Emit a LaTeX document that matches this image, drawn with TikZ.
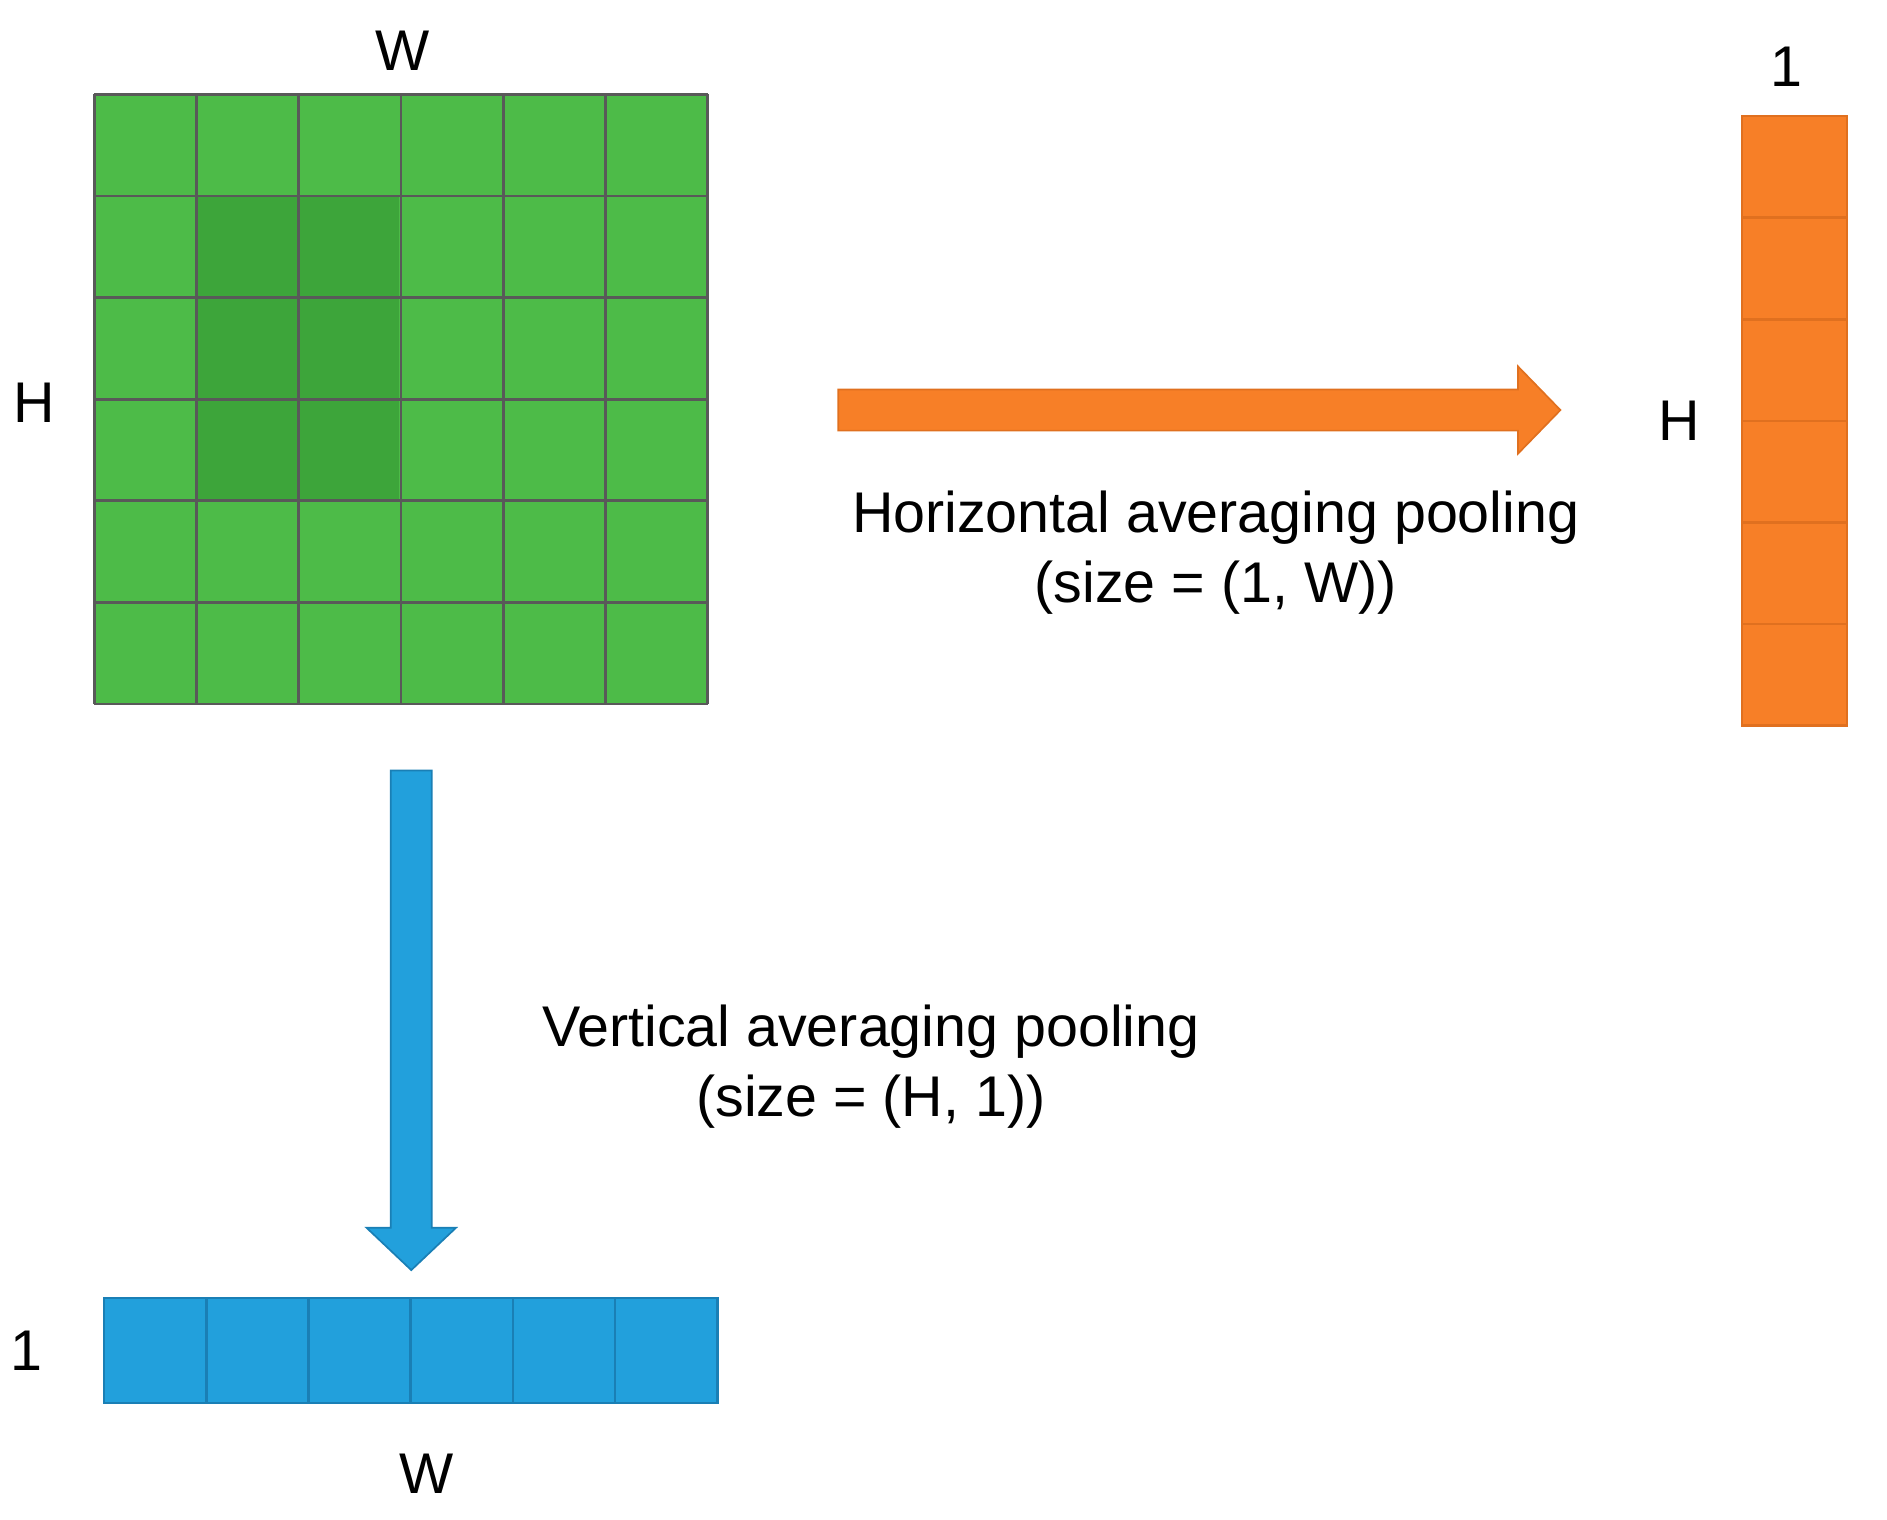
\documentclass[tikz,border=0pt]{standalone}
\usepackage{fontspec}
\setmainfont{Liberation Sans}
\definecolor{grn}{HTML}{4DBB48}
\definecolor{dgrn}{HTML}{3DA53A}
\definecolor{org}{HTML}{F77F27}
\definecolor{orgd}{HTML}{E0701F}
\definecolor{blu}{HTML}{22A0DC}
\definecolor{blud}{HTML}{1A7FB5}
\begin{document}
\begin{tikzpicture}[x=0.02cm,y=-0.02cm,
  lbl/.style={font=\fontsize{27}{33}\selectfont, align=center, inner sep=0pt}]
\useasboundingbox (0,0) rectangle (1560,1256);
% green grid
\fill[grn] (78,78) rectangle (585,582);
\fill[dgrn] (163,163) rectangle (330,413);
\foreach \i in {0,...,6} {
  \draw[gray!70!black, line width=1.3pt] ({78+\i*84.5},78) -- ({78+\i*84.5},582);
  \draw[gray!70!black, line width=1.3pt] (78,{78+\i*84}) -- (585,{78+\i*84});
}
\node[lbl] (w1) at (333,42) {W};
\node[lbl] (h1) at (28,333) {H};
% orange column
\fill[org] (1440,96) rectangle (1527,600);
\foreach \i in {1,...,5} \draw[orgd, line width=1.2pt] (1440,{96+\i*84}) -- (1527,{96+\i*84});
\draw[orgd, line width=1.2pt] (1440,96) rectangle (1527,600);
\node[lbl] (one1) at (1477,55) {1};
\node[lbl] (h2) at (1388,348) {H};
% orange arrow
\filldraw[fill=org, draw=orgd, line width=0.8pt] (693,322) -- (1255,322) -- (1255,303) -- (1290,339) -- (1255,375) -- (1255,356) -- (693,356) -- cycle;
\node[lbl] (ht) at (1005,457) {Horizontal averaging pooling\\(size = (1, W))};
% blue arrow
\filldraw[fill=blu, draw=blud, line width=0.8pt] (323,637) -- (357,637) -- (357,1015) -- (377,1015) -- (340,1050) -- (303,1015) -- (323,1015) -- cycle;
\node[lbl] (vt) at (720,882) {Vertical averaging pooling\\(size = (H, 1))};
% blue bar
\fill[blu] (86,1073) rectangle (593,1160);
\foreach \i in {1,...,5} \draw[blud, line width=1.2pt] ({86+\i*84.5},1073) -- ({86+\i*84.5},1160);
\draw[blud, line width=1.2pt] (86,1073) rectangle (593,1160);
\node[lbl] (one2) at (22,1117) {1};
\node[lbl] (w2) at (353,1218) {W};
\end{tikzpicture}
\end{document}
